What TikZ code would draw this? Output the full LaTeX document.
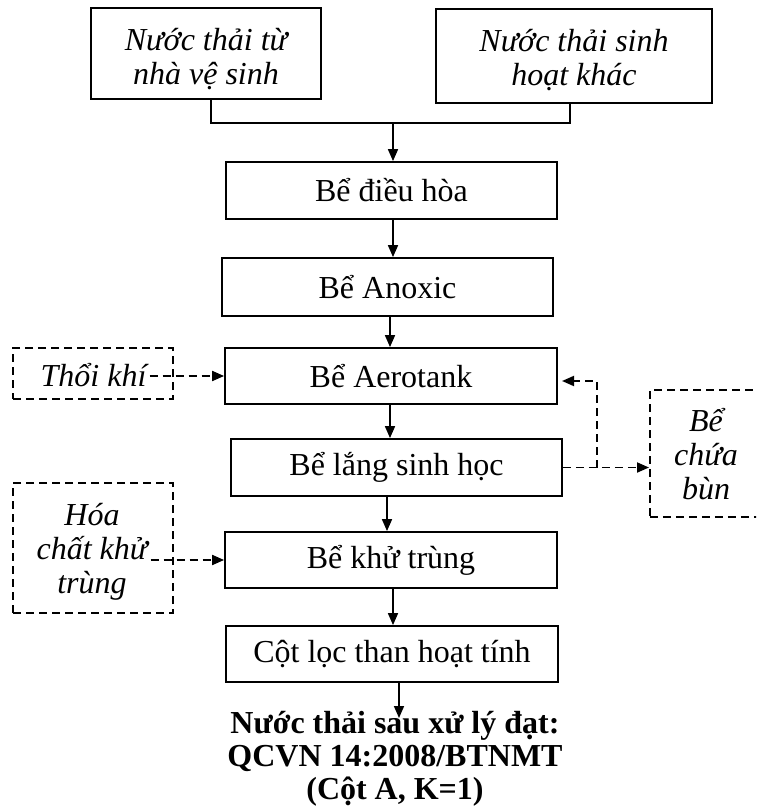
\documentclass[tikz,border=0pt]{standalone}
\usepackage{fontspec}
\setmainfont{Liberation Serif}
\usetikzlibrary{arrows.meta}
\begin{document}
\begin{tikzpicture}[x=1pt,y=-1pt,
  font=\fontsize{32}{34}\selectfont,
  box/.style={draw, line width=1.8pt, minimum width=331pt, minimum height=57pt, inner sep=0pt, align=center},
  srcbox/.style={draw, line width=1.8pt, inner sep=0pt},
  srctext/.style={inner sep=0pt, align=center, font=\fontsize{32}{34}\selectfont\itshape},
  dashbox/.style={draw, line width=1.9pt, dash pattern=on 8pt off 5pt, inner sep=0pt},
  note/.style={inner sep=3pt, align=center, font=\fontsize{32}{34}\selectfont\itshape},
  arr/.style={line width=1.7pt, -{Triangle[length=12pt,width=10pt]}},
  darr/.style={arr, line width=1.9pt, dash pattern=on 8pt off 5pt},
  link/.style={line width=1.7pt}]
\useasboundingbox (0,0) rectangle (756,810);
\clip (0,0) rectangle (756,810);

% inflow sources
\node[srcbox, minimum width=230pt, minimum height=91pt] (src1) at (206,53.5) {};
\node[srctext] (src1txt) at (206,59) {Nước thải từ\\nhà vệ sinh};
\node[srcbox, minimum width=276pt, minimum height=94pt] (src2) at (574,56) {};
\node[srctext] (src2txt) at (574,60) {Nước thải sinh\\hoạt khác};

% treatment line
\node[box] (dieuhoa) at (391.5,190.5) {Bể điều hòa};
\node[box, minimum height=58pt] (anoxic) at (387.5,287) {Bể Anoxic};
\node[box, minimum width=332pt, minimum height=56pt] (aero) at (391,376) {Bể Aerotank};
\node[box] (lang) at (396.5,467.5) {Bể lắng sinh học};
\node[box, minimum width=332pt, minimum height=56pt] (khu) at (391,560) {Bể khử trùng};
\node[box, minimum width=332pt, minimum height=56pt] (cot) at (392,654) {Cột lọc than hoạt tính};

% auxiliary inputs and sludge tank
\node[dashbox, minimum width=160pt, minimum height=51pt] (thoibox) at (93,373.5) {};
\node[note] (thoi) at (93.5,375) {Thổi khí};
\node[dashbox, minimum width=160pt, minimum height=130pt] (hoabox) at (93,548) {};
\node[note] (hoa) at (92,552) {Hóa\\chất khử\\trùng};
\node[dashbox, minimum width=170pt, minimum height=127pt, anchor=west] (bunbox) at (649,453.5) {};
\node[note] (bun) at (706,454) {Bể\\chứa\\bùn};

% effluent standard
\node[font=\fontsize{32}{33}\selectfont\bfseries, align=center, inner sep=0pt] (out) at (395,759)
  {Nước thải sau xử lý đạt:\\QCVN 14:2008/BTNMT\\(Cột A, K=1)};

% merging the two inflows
\coordinate (merge) at (393,123);
\draw[link] ([xshift=5pt]src1.south) |- (merge) -| ([xshift=-4pt]src2.south);
\draw[arr] (merge) -- (merge |- dieuhoa.north);

% main flow
\draw[arr] ([xshift=1.5pt]dieuhoa.south) -- ([xshift=1.5pt]dieuhoa.south |- anoxic.north);
\draw[arr] ([xshift=2.5pt]anoxic.south) -- ([xshift=2.5pt]anoxic.south |- aero.north);
\draw[arr] ([xshift=-1pt]aero.south) -- ([xshift=-1pt]aero.south |- lang.north);
\draw[arr] ([xshift=-9.5pt]lang.south) -- ([xshift=-9.5pt]lang.south |- khu.north);
\draw[arr] ([xshift=2pt]khu.south) -- ([xshift=2pt]khu.south |- cot.north);
\coordinate (outtip) at (399,718);
\draw[arr] (outtip |- cot.south) -- (outtip);

% dashed auxiliary flows
\draw[darr] (thoi.east |- aero.west) -- (aero.west);
\draw[darr] (hoa.east |- khu.west) -- (khu.west);
\draw[darr] (lang.east) -- (lang.east -| bunbox.west);
\coordinate (retx) at (597,0);
\coordinate (retin) at (562,381);
\draw[darr] (lang.east -| retx) |- (retin);
\end{tikzpicture}
\end{document}
